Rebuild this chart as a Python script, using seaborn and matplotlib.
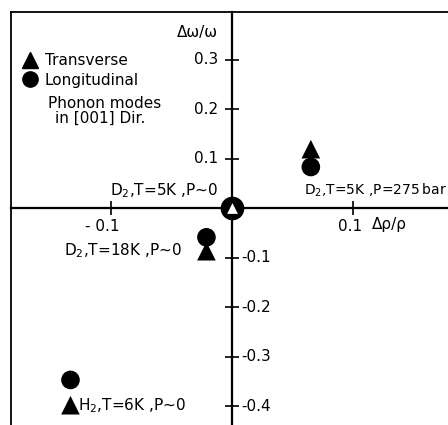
import matplotlib
matplotlib.use("Agg")
import matplotlib.pyplot as plt
import seaborn as sns
import pandas as pd
from matplotlib.lines import Line2D

# ---- data ----
sample = ["D2 5K P=275bar", "D2 5K P=275bar", "D2 18K P~0", "D2 18K P~0", "H2 6K P~0", "H2 6K P~0"]
mode = ["Transverse", "Longitudinal", "Transverse", "Longitudinal", "Transverse", "Longitudinal"]
drho = [0.065, 0.065, -0.021, -0.021, -0.133, -0.133]
domega = [0.119, 0.083, -0.087, -0.059, -0.398, -0.347]

ref_x = [0.0]
ref_y = [0.0]

xticks = [-0.1, 0.1]
xtick_labels = ["- 0.1", "0.1"]
yticks_pos = [0.1, 0.2, 0.3]
yticks_pos_labels = ["0.1", "0.2", "0.3"]
yticks_neg = [-0.1, -0.2, -0.3, -0.4]
yticks_neg_labels = ["-0.1", "-0.2", "-0.3", "-0.4"]

df = pd.DataFrame({"sample": sample, "mode": mode, "drho": drho, "domega": domega})
ref = pd.DataFrame({"drho": ref_x, "domega": ref_y})

sns.set_style("white")
plt.rcParams["font.family"] = ["DejaVu Sans"]
plt.rcParams["text.color"] = "black"
FS = 11

fig = plt.figure(figsize=(4.48, 4.25), dpi=100)
ax = fig.add_axes([11 / 448, 0.0, (448 - 11) / 448, (425 - 12) / 425])

ax.set_xlim(-0.182, 0.178)
ax.set_ylim(-0.438, 0.396)

# central axes through origin, frame on left and top
ax.spines["left"].set_position(("data", 0))
ax.spines["bottom"].set_position(("data", 0))
ax.spines["right"].set_position(("axes", 0))
for s in ["left", "bottom"]:
    ax.spines[s].set_linewidth(1.6)
    ax.spines[s].set_color("black")
for s in ["right", "top"]:
    ax.spines[s].set_linewidth(1.3)
    ax.spines[s].set_color("black")
ax.xaxis.set_ticks_position("bottom")
ax.yaxis.set_ticks_position("left")
ax.set_xticks(xticks)
ax.set_yticks(yticks_neg + yticks_pos)
ax.tick_params(direction="inout", length=10, width=1.2, labelleft=False, labelbottom=False, color="black")

sns.scatterplot(data=df, x="drho", y="domega", style="mode",
                markers={"Transverse": "^", "Longitudinal": "o"},
                color="black", s=180, linewidth=0, legend=False, ax=ax, zorder=5)
sns.scatterplot(data=ref, x="drho", y="domega", marker="o", color="black",
                s=290, linewidth=0, legend=False, ax=ax, zorder=5)
sns.scatterplot(data=ref, x="drho", y="domega", marker="^", color="white",
                s=60, linewidth=0, legend=False, ax=ax, zorder=6)
ax.set_xlabel("")
ax.set_ylabel("")

# tick labels
for v, lab in zip(yticks_pos, yticks_pos_labels):
    ax.annotate(lab, (0, v), xytext=(-14, 0), textcoords="offset pixels",
                ha="right", va="center", fontsize=FS)
for v, lab in zip(yticks_neg, yticks_neg_labels):
    ax.annotate(lab, (0, v), xytext=(9, 0), textcoords="offset pixels",
                ha="left", va="center", fontsize=FS)
for v, lab, dx in zip(xticks, xtick_labels, [-8, -3]):
    ax.annotate(lab, (v, 0), xytext=(dx, -18), textcoords="offset pixels",
                ha="center", va="center", fontsize=FS)

# axis titles
ax.text(-0.0115, 0.354, "Δω/ω", ha="right", va="center", fontsize=FS)
ax.text(0.115, -0.034, "Δρ/ρ", ha="left", va="center", fontsize=FS)

# annotations
ax.text(-0.0115, 0.036, "D$_2$,T=5K ,P~0", ha="right", va="center", fontsize=FS)
ax.text(0.059, 0.036, "D$_2$,T=5K ,P=275\u2009bar", ha="left", va="center", fontsize=10)
ax.text(-0.041, -0.085, "D$_2$,T=18K ,P~0", ha="right", va="center", fontsize=FS)
ax.text(-0.127, -0.398, "H$_2$,T=6K ,P~0", ha="left", va="center", fontsize=FS)
ax.text(-0.1514, 0.212, "Phonon modes", ha="left", va="center", fontsize=FS)
ax.text(-0.1457, 0.182, "in [001] Dir.", ha="left", va="center", fontsize=FS)

# legend
handles = [Line2D([], [], marker="^", color="black", linestyle="none", markersize=11),
           Line2D([], [], marker="o", color="black", linestyle="none", markersize=11)]
leg = ax.legend(handles, ["Transverse", "Longitudinal"], loc="upper left",
                bbox_to_anchor=(21 / 448, (425 - 53) / 425), bbox_transform=fig.transFigure,
                frameon=False, fontsize=FS, handlelength=1.2, handletextpad=0.35,
                borderpad=0, borderaxespad=0, labelspacing=0.3)
for t in leg.get_texts():
    t.set_color("black")

fig.savefig("out.png", dpi=100)
